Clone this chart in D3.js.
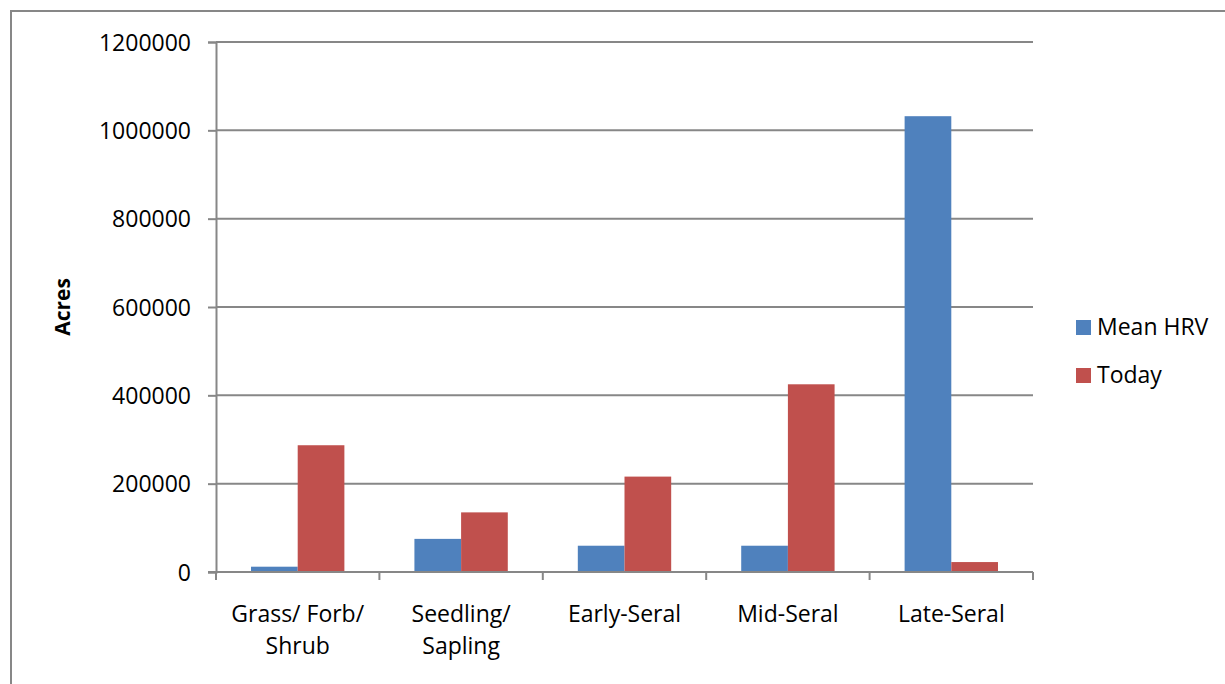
<!DOCTYPE html>
<html>
<head>
<meta charset="utf-8">
<script src="https://cdn.jsdelivr.net/npm/d3@7"></script>
<style>
  html, body { margin: 0; padding: 0; background: #fff; }
  svg { display: block; }
  text { font-family: "Open Sans", "Liberation Sans", Arial, sans-serif; fill: #000; }
</style>
</head>
<body>
<svg id="chart" width="1225" height="684"></svg>
<script>
// Seral stage acreage: historic range of variability vs. today
const categories = [["Grass/ Forb/", "Shrub"], ["Seedling/", "Sapling"], ["Early-Seral"], ["Mid-Seral"], ["Late-Seral"]];
const seriesNames = ["Mean HRV", "Today"];
const meanHRV = [12000, 75000, 59500, 59500, 1032000];
const today = [287000, 135000, 216000, 425000, 22500];
const yTicks = [0, 200000, 400000, 600000, 800000, 1000000, 1200000];
const colors = ["#4F81BD", "#C0504D"];

const svg = d3.select("#chart");
const gridColor = "#878787";
const fontSize = 23;

// outer chart frame
svg.append("rect")
  .attr("x", 11).attr("y", 11)
  .attr("width", 1240).attr("height", 700)
  .attr("fill", "none").attr("stroke", gridColor).attr("stroke-width", 2);

const plot = { left: 216, right: 1033, top: 42, bottom: 572 };

const keys = categories.map((c, i) => i);
const x = d3.scaleBand().domain(keys).range([plot.left, plot.right]).padding(0);
const x1 = d3.scaleBand().domain(seriesNames).range([0, x.bandwidth()])
  .paddingInner(0).paddingOuter(0.75);
const y = d3.scaleLinear().domain([0, 1200000]).range([plot.bottom, plot.top]);

// horizontal gridlines
svg.append("g")
  .selectAll("line")
  .data(yTicks.filter(d => d > 0))
  .join("line")
  .attr("x1", plot.left).attr("x2", plot.right)
  .attr("y1", d => y(d)).attr("y2", d => y(d))
  .attr("stroke", gridColor).attr("stroke-width", 2);

// y axis
const yAxis = svg.append("g")
  .attr("transform", `translate(${plot.left},0)`)
  .call(d3.axisLeft(y).tickValues(yTicks).tickSize(8).tickPadding(17).tickFormat(d3.format("d")));
yAxis.select(".domain").attr("stroke", gridColor).attr("stroke-width", 2);
yAxis.selectAll(".tick line").attr("stroke", gridColor).attr("stroke-width", 2);
yAxis.selectAll(".tick text")
  .attr("font-family", "Open Sans, Liberation Sans, Arial, sans-serif")
  .attr("font-size", fontSize).attr("fill", "#000").attr("dy", "0.36em");

// bars
const rows = keys.map(i => ({ i, values: [meanHRV[i], today[i]] }));
const groups = svg.append("g").selectAll("g")
  .data(rows)
  .join("g")
  .attr("transform", d => `translate(${x(d.i)},0)`);
groups.selectAll("rect")
  .data(d => d.values.map((v, k) => ({ name: seriesNames[k], v, k })))
  .join("rect")
  .attr("x", d => x1(d.name))
  .attr("width", x1.bandwidth())
  .attr("y", d => y(d.v))
  .attr("height", d => y(0) - y(d.v))
  .attr("fill", d => colors[d.k]);

// x axis
const xAxis = svg.append("g")
  .attr("transform", `translate(0,${plot.bottom})`);
xAxis.append("line")
  .attr("x1", plot.left - 8).attr("x2", plot.right)
  .attr("y1", 0).attr("y2", 0)
  .attr("stroke", gridColor).attr("stroke-width", 2);
xAxis.selectAll("line.tick")
  .data(keys.concat([keys.length]))
  .join("line")
  .attr("class", "tick")
  .attr("x1", d => d < keys.length ? x(d) : plot.right)
  .attr("x2", d => d < keys.length ? x(d) : plot.right)
  .attr("y1", 0).attr("y2", 8)
  .attr("stroke", gridColor).attr("stroke-width", 2);

const labels = xAxis.selectAll("text.cat")
  .data(keys)
  .join("text")
  .attr("class", "cat")
  .attr("text-anchor", "middle")
  .attr("font-size", fontSize)
  .attr("transform", d => `translate(${x(d) + x.bandwidth() / 2},50)`);
labels.selectAll("tspan")
  .data(d => categories[d])
  .join("tspan")
  .attr("x", 0)
  .attr("y", (d, j) => j * 32)
  .text(d => d);

// y axis title
svg.append("text")
  .attr("transform", `translate(70,${(plot.top + plot.bottom) / 2}) rotate(-90)`)
  .attr("text-anchor", "middle")
  .attr("font-size", 21)
  .attr("font-weight", "bold")
  .text("Acres");

// legend
const legend = svg.append("g").selectAll("g")
  .data(seriesNames)
  .join("g")
  .attr("transform", (d, i) => `translate(1076,${320 + i * 48})`);
legend.append("rect")
  .attr("width", 15).attr("height", 15)
  .attr("fill", (d, i) => colors[i]);
legend.append("text")
  .attr("x", 21).attr("y", 15)
  .attr("font-size", fontSize)
  .text(d => d);
</script>
</body>
</html>
